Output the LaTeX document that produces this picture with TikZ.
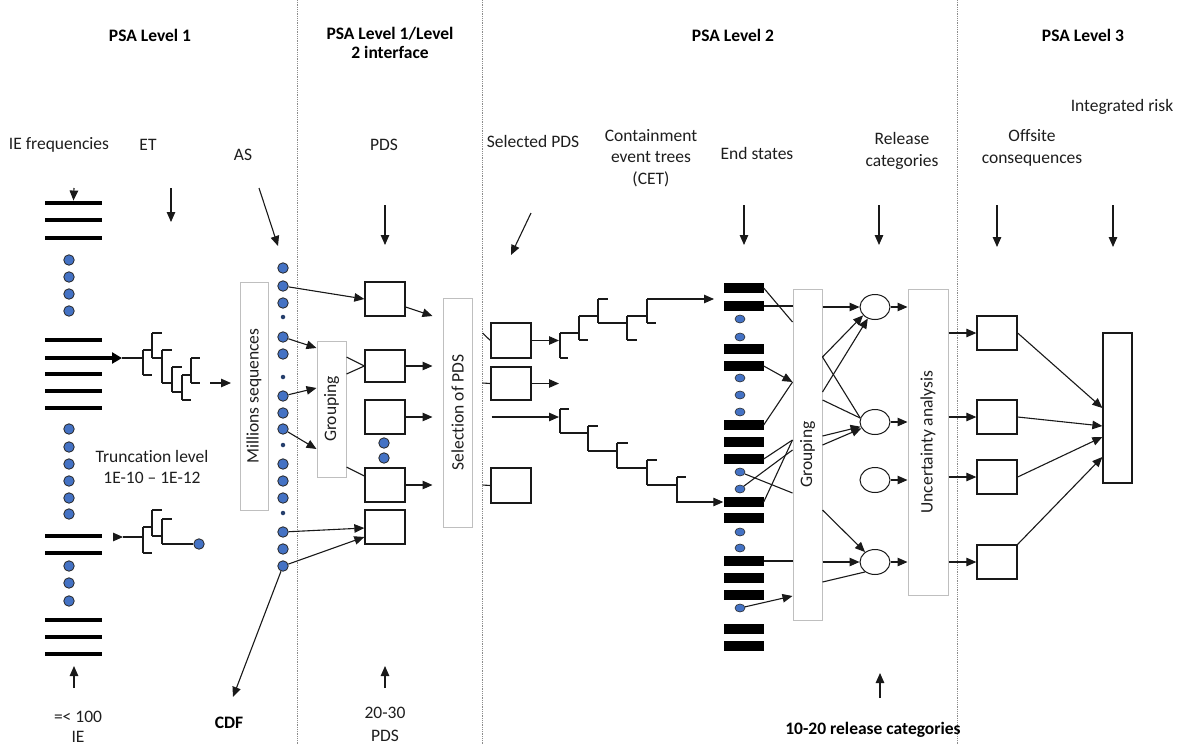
\documentclass[tikz,border=0pt]{standalone}
\usepackage{fontspec}
\usepackage{graphicx}
\setmainfont[Ligatures=NoCommon]{Carlito}
\usetikzlibrary{arrows.meta,calc,shapes.geometric}
\definecolor{dotblue}{RGB}{68,114,196}
\definecolor{boxgray}{RGB}{191,191,191}
\definecolor{txt}{RGB}{30,30,30}
\definecolor{lnc}{RGB}{25,25,25}
\begin{document}
\begin{tikzpicture}[x=1pt,y=-1pt,
  every node/.style={font=\fontsize{17.5}{21.5}\selectfont, text=txt},
  ttl/.style={font=\fontsize{17.5}{19.5}\selectfont\bfseries, text=black, align=center, inner sep=0pt},
  lbl/.style={align=center, inner sep=0pt},
  arr/.style={draw=lnc, line width=1.1pt, -{Triangle[length=10pt,width=8.5pt]}},
  ln/.style={draw=lnc, line width=1.1pt},
  gbox/.style={draw=boxgray, line width=1pt, fill=white, rectangle, inner sep=0pt},
  wbox/.style={draw=lnc, line width=1.3pt, fill=white, rectangle, inner sep=0pt, minimum width=40pt},
  bdot/.style={circle, draw=black!85, line width=0.8pt, fill=dotblue, inner sep=0pt, minimum size=10.5pt},
  sdot/.style={circle, fill=dotblue!55!black, inner sep=0pt, minimum size=4.5pt},
  edot/.style={ellipse, draw=black!85, line width=0.6pt, fill=dotblue, inner sep=0pt, minimum width=10pt, minimum height=8pt},
  ibar/.style={rectangle, fill=black, inner sep=0pt, minimum width=57pt, minimum height=4.5pt},
  ebar/.style={rectangle, fill=black, inner sep=0pt, minimum width=40pt, minimum height=10pt},
  rc/.style={ellipse, draw=lnc, line width=1pt, fill=white, inner sep=0pt, minimum width=30pt, minimum height=25pt},
  sepl/.style={draw=black!45, line width=0.8pt, dash pattern=on 0.8pt off 1pt}
]
\useasboundingbox (0,0) rectangle (1181,745);
\fill[white] (0,0) rectangle (1181,745);

% separators
\draw[sepl] (297,0) coordinate (s1a) -- (297,745) coordinate (s1b);
\draw[sepl] (482,0) coordinate (s2a) -- (482,745) coordinate (s2b);
\draw[sepl] (957,0) coordinate (s3a) -- (957,745) coordinate (s3b);

% titles
\node[ttl] (t1) at (150,35) {PSA Level 1};
\node[ttl] (t2) at (390,43) {PSA Level 1/Level\\2 interface};
\node[ttl] (t3) at (733,35) {PSA Level 2};
\node[ttl] (t4) at (1083,35) {PSA Level 3};

% column labels
\node[lbl] (lie) at (59,145) {IE frequencies};
\node[lbl] (let) at (148,145) {ET};
\node[lbl] (las) at (243,155) {AS};
\node[lbl] (lpds) at (384,145) {PDS};
\node[lbl] (lsel) at (533,141) {Selected PDS};
\node[lbl] (lcet) at (651,158) {Containment\\event trees\\(CET)};
\node[lbl] (lend) at (757,153) {End states};
\node[lbl] (lrel) at (902,151) {Release\\categories};
\node[lbl] (loff) at (1032,148) {Offsite\\consequences};
\node[lbl] (lint) at (1122,107) {Integrated risk};
\node[lbl] (ltr) at (152,467) {Truncation level\\1E-10 -- 1E-12};
\node[lbl, font=\fontsize{17.5}{20}\selectfont] (lie100) at (78,727) {=< 100\\IE};
\node[ttl] (lcdf) at (229,723) {CDF};
\node[lbl, font=\fontsize{17.5}{23}\selectfont] (l2030) at (385,724) {20-30\\PDS};
\node[ttl] (l1020) at (873,730) {10-20 release categories};

% top down arrows
\draw[arr] (171,188) coordinate (etA) -- (171,222) coordinate (etB);
\draw[arr] (259,188) coordinate (asA) -- (278,246) coordinate (asB);
\draw[arr] (385,205) coordinate (pdA) -- (385,245) coordinate (pdB);
\draw[arr] (531,213) coordinate (spA) -- (511,255) coordinate (spB);
\draw[arr] (744,205) coordinate (esA) -- (744,245) coordinate (esB);
\draw[arr] (879,205) coordinate (rcA) -- (879,245) coordinate (rcB);
\draw[arr] (997,205) coordinate (ocA) -- (997,247) coordinate (ocB);
\draw[arr] (1113,205) coordinate (irA) -- (1113,247) coordinate (irB);
% bottom up arrows
\draw[arr] (74,688) coordinate (ieU) -- (74,666) coordinate (ieV);
\draw[arr] (385,688) coordinate (pdU) -- (385,666) coordinate (pdV);
\draw[arr] (880,698) coordinate (rcU) -- (880,673) coordinate (rcV);

% IE bars and dots
\foreach \n/\y in {1/203,2/220,3/238,4/340,5/358,6/374,7/391,8/408,9/536,10/553,11/620,12/637,13/654}
  \node[ibar] (ie\n) at (73.5,\y) {};
\foreach \y in {260,277,294,311,429,447,464,481,498,514,566,583,601}
  \node[bdot] (ld\y) at (69,\y) {};
\draw[arr] (74,188) coordinate (ieA) -- (ie1.north);

% upper ET
\draw[draw=black, line width=4.5pt, -{Triangle[length=10pt,width=11pt]}] (ie5.east) -- (122,358) coordinate (et0);
\draw[ln] (et0) -- (143,358)
  (143,350) -- (143,375) (143,350) -- (152,350) (143,375) -- (152,375)
  (152,333) -- (152,358) (152,333) -- (162,333) (152,358) -- (162,358)
  (162,350) -- (162,383) (162,350) -- (172,350) (162,383) -- (172,383)
  (172,367) -- (172,392) (172,367) -- (182,367) (172,392) -- (182,392)
  (182,375) -- (182,400) (182,375) -- (191,375) (182,400) -- (191,400)
  (191,358) -- (191,383) (191,358) -- (200,358) (191,383) -- (200,383);
\draw[arr] (210,383) coordinate (etC) -- (231,383) coordinate (etD);

% lower ET
\node[bdot] (td) at (199,544) {};
\draw[arr] (113,537) coordinate (lt0) -- (123,537) coordinate (lt1);
\draw[ln] (lt1) -- (143,537)
  (143,527) -- (143,553) (143,527) -- (152,527) (143,553) -- (152,553)
  (152,510) -- (152,536) (152,510) -- (162,510) (152,536) -- (162,536)
  (162,519) -- (162,544) (162,519) -- (172,519) (162,544) -- (td.west);

% Millions sequences
\node[gbox, minimum width=28pt, minimum height=228pt] (ms) at (254,396) {\rotatebox{90}{Millions sequences}};

% AS dots
\foreach \y in {268,286,303,337,354,396,413,429,464,481,498,532,549,566}
  \node[bdot] (as\y) at (283,\y) {};
\foreach \y in {317,377,445,513}
  \node[sdot] (as\y) at (283,\y) {};

% Level 1/2 interface
\node[gbox, minimum width=29pt, minimum height=136pt] (g1) at (331.5,409) {\rotatebox{90}{Grouping}};
\node[wbox, minimum height=34pt] (P1) at (385,299) {};
\node[wbox, minimum height=32pt] (P2) at (385,366) {};
\node[wbox, minimum height=34pt] (P3) at (385,417) {};
\node[wbox, minimum height=34pt] (P4) at (385,485) {};
\node[wbox, minimum height=34pt] (P5) at (385,527) {};
\node[bdot] (pd1) at (384,443) {};
\node[bdot] (pd2) at (384,458) {};
\node[gbox, minimum width=29pt, minimum height=229pt] (sel) at (457.5,412.5) {\rotatebox{90}{Selection of PDS}};

\draw[arr] (as286) -- (P1.west);
\draw[arr] (as337) -- ($(g1.west)+(0,-61)$);
\draw[arr] (as396) -- ($(g1.west)+(0,-21)$);
\draw[arr] (as429) -- ($(g1.west)+(0,40)$);
\draw[ln] ($(g1.east)+(0,-52)$) -- (P2.west);
\draw[ln] ($(g1.east)+(0,-35)$) -- (P2.west);
\draw[ln] ($(g1.east)+(0,58)$) -- ($(P4.west)+(0,-9)$);
\draw[arr] (as532) -- ($(P5.west)+(0,1)$);
\draw[arr] (as566) -- ($(P5.west)+(0,10)$);
\draw[arr] (as566) -- (233,697) coordinate (cdfA);

\draw[arr] ($(P1.east)+(0,8)$) -- ($(sel.west)+(-10,-96.5)$);
\draw[arr] (P2.east) -- ($(sel.west)+(-10,-46.5)$);
\draw[arr] (P3.east) -- ($(sel.west)+(-10,4.5)$);
\draw[arr] (P4.east) -- ($(sel.west)+(-10,72.5)$);

% Level 2: selected PDS
\node[wbox, minimum height=35pt] (S1) at (511,340.5) {};
\node[wbox, minimum height=33pt] (S2) at (511,383.5) {};
\node[wbox, minimum height=35pt] (S3) at (511,485.5) {};
\draw[ln] ($(sel.east)+(10,-79.5)$) -- (S1.west);
\draw[ln] ($(sel.east)+(10,-29.5)$) -- (S2.west);
\draw[ln] ($(sel.east)+(10,72.5)$) -- (S3.west);
\draw[arr] (S1.east) -- (559,340.5) coordinate (ct0);
\draw[arr] (S2.east) -- (559,383.5) coordinate (ct1);
\draw[arr] ($(sel.east)+(19,4.5)$) -- (559,417) coordinate (ct2);

% end states
\foreach \y in {288,306,349,366,425,442,459,502,518,561,578,595,629,646}
  \node[ebar] (es\y) at (743.5,\y) {};
\foreach \y in {319,337,378,395,412,472,489,532,548,608}
  \node[edot] (ed\y) at (740,\y) {};

% upper CET
\draw[ln] (560,333) -- (560,358) (560,358) -- (568,358) (560,333) -- (579,333)
  (579,316) -- (579,340) (579,340) -- (588,340) (579,316) -- (598,316)
  (598,299) -- (598,323) (598,299) -- (608,299) (598,323) -- (627,323)
  (627,316) -- (627,340) (627,340) -- (637,340) (627,316) -- (647,316)
  (647,299) -- (647,323) (647,323) -- (656,323);
\draw[arr] (647,299) coordinate (cu0) -- (714,299) coordinate (cu1);

% lower CET
\draw[ln] (560,409) -- (560,433) (560,409) -- (569,409) (560,433) -- (588,433)
  (588,426) -- (588,451) (588,426) -- (598,426) (588,451) -- (617,451)
  (617,443) -- (617,468) (617,443) -- (628,443) (617,468) -- (647,468)
  (647,460) -- (647,485) (647,460) -- (657,460) (647,485) -- (677,485)
  (677,477) -- (677,503) (677,477) -- (686,477);
\draw[arr] (677,502) coordinate (cl0) -- (es502.west);

% grouping 2, release categories, uncertainty
\node[gbox, minimum width=29pt, minimum height=331pt] (g2) at (807.5,454.5) {\rotatebox{90}{Grouping}};
\node[rc] (R1) at (875,307) {};
\node[rc] (R2) at (875,422) {};
\node[rc] (R3) at (875,480) {};
\node[rc] (R4) at (875,562) {};
\node[gbox, minimum width=40pt, minimum height=306pt] (ua) at (928,442) {\rotatebox{90}{Uncertainty analysis}};

\draw[ln] (es288.east) -- ($(g2.west)+(0,-132.5)$);
\draw[ln] (es306.east) -- (g2.west |- es306.east);
\draw[arr] (g2.east |- R1.west) -- (R1.west);
\draw[arr] (es366.east) -- ($(g2.west)+(0,-72.5)$);
\draw[ln] (es425.east) -- ($(g2.west)+(0,-72.5)$);
\draw[arr] ($(g2.east)+(0,-97.5)$) -- (R1.215);
\draw[ln] ($(g2.east)+(0,-97.5)$) -- (R2.165);
\draw[arr] ($(g2.east)+(0,-62.5)$) -- (R1.238);
\draw[ln] ($(g2.east)+(0,-54.5)$) -- (R2.165);
\draw[ln] (es459.east) -- ($(g2.west)+(0,-14.5)$);
\draw[ln] (ed472) -- ($(g2.west)+(0,38.5)$);
\draw[ln] (ed489) -- ($(g2.west)+(0,-4.5)$);
\draw[ln] (es502.east) -- ($(g2.west)+(0,-14.5)$);
\draw[arr] ($(g2.east)+(0,-18.5)$) -- (R2.198);
\draw[arr] ($(g2.east)+(0,-9.5)$) -- (R2.205);
\draw[arr] ($(g2.east)+(0,55.5)$) -- (R4.135);
\draw[ln] (es561.east) -- (g2.west |- es561.east);
\draw[arr] (g2.east |- R4.west) -- (R4.west);
\draw[ln] ($(g2.east)+(0,127.5)$) -- (R4.225);
\draw[arr] (ed608) -- ($(g2.west)+(0,141.5)$);

\foreach \r in {R1,R2,R3,R4}
  \draw[arr] (\r.east) -- (ua.west |- \r.east);

% Level 3
\node[wbox, minimum height=34pt] (O1) at (997,333) {};
\node[wbox, minimum height=34pt] (O2) at (997,417) {};
\node[wbox, minimum height=34pt] (O3) at (997,477) {};
\node[wbox, minimum height=34pt] (O4) at (997,562) {};
\node[wbox, minimum width=29pt, minimum height=150pt] (IR) at (1117.5,408) {};
\foreach \o in {O1,O2,O3,O4}
  \draw[arr] (ua.east |- \o.west) -- (\o.west);
\draw[arr] (O1.east) -- (IR.west);
\draw[arr] (O2.east) -- ($(IR.west)+(0,18)$);
\draw[arr] (O3.east) -- ($(IR.west)+(0,29)$);
\draw[arr] (O4.north east) -- ($(IR.west)+(0,49)$);
\end{tikzpicture}
\end{document}
